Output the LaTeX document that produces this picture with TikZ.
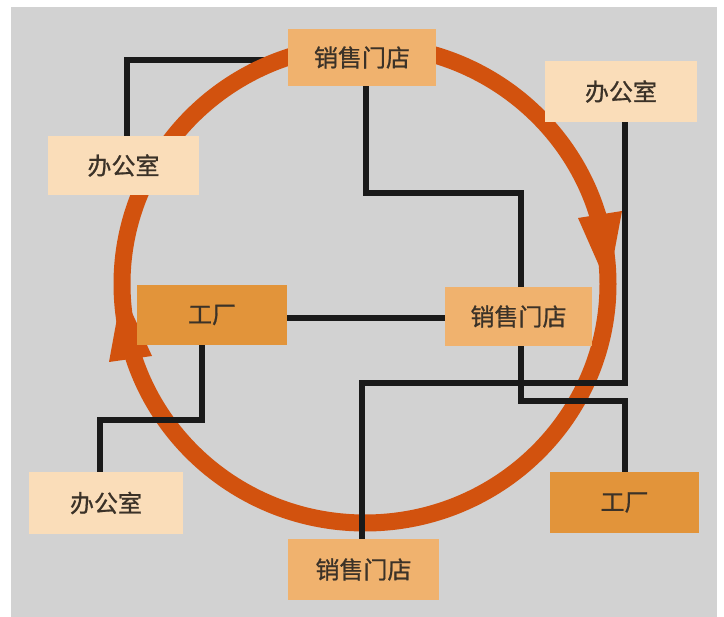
\documentclass[tikz,border=0pt]{standalone}
\usepackage{fontspec}
\newfontfamily\cjk[FakeBold=0.8]{Noto Sans CJK SC}
\definecolor{bgc}{HTML}{D2D2D2}
\definecolor{ringc}{HTML}{D2520E}
\definecolor{shopc}{HTML}{F0B26E}
\definecolor{officec}{HTML}{FADDB9}
\definecolor{factc}{HTML}{E2943A}
\definecolor{txtc}{HTML}{3B3228}
\definecolor{linec}{HTML}{1A1A1A}
\begin{document}
\begin{tikzpicture}[x=1pt,y=-1pt,
  boxbase/.style={rectangle, inner sep=0pt, text=txtc, font=\cjk\fontsize{24}{24}\selectfont},
  shop/.style={boxbase, fill=shopc},
  office/.style={boxbase, fill=officec},
  factory/.style={boxbase, fill=factc},
  link/.style={draw=linec, line width=6pt},
  ring/.style={draw=ringc, line width=17pt},
  ringtip/.style={fill=ringc}]
\useasboundingbox (0,0) rectangle (724,617);
\fill[white] (0,0) rectangle (724,617);
\fill[bgc] (11,7) rectangle (717,617);

% boxes (drawn later on top; positions defined here)
\path
  (362,57.5)   node[shop,    minimum width=148pt, minimum height=57pt] (s1) {}
  (621,91.5)   node[office,  minimum width=152pt, minimum height=61pt] (o1) {}
  (123.5,165.5) node[office, minimum width=151pt, minimum height=59pt] (o2) {}
  (212,315)    node[factory, minimum width=150pt, minimum height=60pt] (f1) {}
  (518.5,316.5) node[shop,   minimum width=147pt, minimum height=59pt] (s2) {}
  (106,503)    node[office,  minimum width=154pt, minimum height=62pt] (o3) {}
  (363.5,569.5) node[shop,   minimum width=151pt, minimum height=61pt] (s3) {}
  (624.5,502.5) node[factory, minimum width=149pt, minimum height=61pt] (f2) {};

% connector passing under the ring
\draw[link] ([yshift=-2.5pt]s1.west) -| ([xshift=3.5pt]o2.north);

% cycle ring with arrowheads
\draw[ring] (365,284) ellipse [x radius=243, y radius=239];
\fill[ringtip] (608,286) -- (622,211) -- (578,218) -- cycle;
\fill[ringtip] (122,291) -- (109,362) -- (152,356) -- cycle;

% connectors passing over the ring
\draw[link] ([xshift=4pt]s1.south) -- ++(0,107) -| ([xshift=2.5pt]s2.north);
\draw[link] ([xshift=4pt]o1.south) -- ++(0,261) -| ([xshift=-1.5pt]s3.north);
\draw[link] ([xshift=2.5pt]s2.south) -- ++(0,55) -| (f2.north);
\draw[link] ([yshift=-3pt]f1.east) -- ([yshift=-3pt]f1.east -| s2.west);
\draw[link] ([xshift=-10pt]f1.south) -- ++(0,75) -| ([xshift=-6pt]o3.north);

% boxes on top
\node[shop,    minimum width=148pt, minimum height=57pt] at (s1) {销售门店};
\node[office,  minimum width=152pt, minimum height=61pt] at (o1) {办公室};
\node[office,  minimum width=151pt, minimum height=59pt] at (o2) {办公室};
\node[factory, minimum width=150pt, minimum height=60pt] at (f1) {工厂};
\node[shop,    minimum width=147pt, minimum height=59pt] at (s2) {销售门店};
\node[office,  minimum width=154pt, minimum height=62pt] at (o3) {办公室};
\node[shop,    minimum width=151pt, minimum height=61pt] at (s3) {销售门店};
\node[factory, minimum width=149pt, minimum height=61pt] at (f2) {工厂};
\end{tikzpicture}
\end{document}
